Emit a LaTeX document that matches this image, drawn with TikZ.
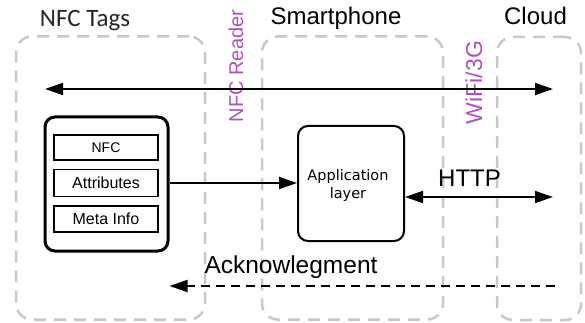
\documentclass[tikz,border=0pt]{standalone}
\usepackage{fontspec}
\setmainfont{Liberation Sans}
\newfontfamily\carl{Carlito}
\newfontfamily\dvs{DejaVu Sans}
\usetikzlibrary{arrows.meta}
\definecolor{grayline}{RGB}{200,200,200}
\definecolor{purp}{RGB}{175,80,190}
\begin{document}
\begin{tikzpicture}[x=1pt,y=-1pt,
  zone/.style={draw=grayline,line width=2.5pt,dash pattern=on 12pt off 8pt,rounded corners=16pt,inner sep=0pt,outer sep=0pt},
  title/.style={anchor=base,font=\fontsize{24}{28}\selectfont},
  vlabel/.style={rotate=90,anchor=base,text=purp},
  field/.style={draw,line width=1.8pt,minimum width=104pt,inner sep=0pt,font=\fontsize{16}{19}\selectfont},
  arr/.style={line width=1.8pt,-{Triangle[length=18pt,width=12pt]}},
  both/.style={line width=1.8pt,{Triangle[length=18pt,width=12pt]}-{Triangle[length=18pt,width=12pt]}}]
\useasboundingbox (0,0) rectangle (585,323);
% zones
\node[zone,minimum width=189pt,minimum height=283pt] (tags) at (110.5,178) {};
\node[zone,minimum width=181pt,minimum height=283pt] (phone) at (352.5,178) {};
\node[zone,minimum width=84pt,minimum height=283pt] (cloud) at (539,178.5) {};
% titles
\node[title,font=\carl\fontsize{25}{29}\selectfont,text=black!85] (tagsT) at (85,27) {NFC Tags};
\node[title] (phoneT) at (336,25) {Smartphone};
\node[title] (cloudT) at (535.5,25) {Cloud};
\node[vlabel,font=\fontsize{20}{24}\selectfont] (reader) at (243,66) {NFC Reader};
\node[vlabel,font=\fontsize{23}{27}\selectfont] (wifi) at (482,82.5) {WiFi/3G};
% NFC tag
\node[draw,line width=3pt,rounded corners=10pt,minimum width=123pt,minimum height=134pt,inner sep=0pt] (nfc) at (106.5,184) {};
\node[field,minimum height=25pt,font=\fontsize{14}{17}\selectfont] (nfcf) at (106,147.5) {NFC};
\node[field,minimum height=27pt] (attr) at (106,183) {Attributes};
\node[field,minimum height=26pt] (meta) at (106,219) {Meta Info};
% application layer
\node[draw,line width=2pt,rounded corners=10pt,minimum width=106pt,minimum height=115pt,inner sep=0pt] (app) at (351,183.5) {};
\node[align=center,inner sep=0pt,font=\dvs\fontsize{14.5}{18.5}\selectfont] (appT) at (348,185.5) {Application\\layer};
% connectors
\coordinate (tl) at (45,89);
\coordinate (tr) at (553,89);
\draw[both] (tl) -- (tr);
\draw[arr] (nfc.east |- attr.east) -- (app.west |- attr.east);
\coordinate (hr) at (553,197);
\draw[both] (app.east |- hr) -- (hr);
\node[title] (httpT) at (469.5,186) {HTTP};
\node[title,font=\fontsize{24.5}{28}\selectfont] (ackT) at (291,273) {Acknowlegment};
\coordinate (ar) at (555,286);
\draw[arr,dash pattern=on 9pt off 6pt] (ar) -- (nfc.east |- ar);
\end{tikzpicture}
\end{document}
